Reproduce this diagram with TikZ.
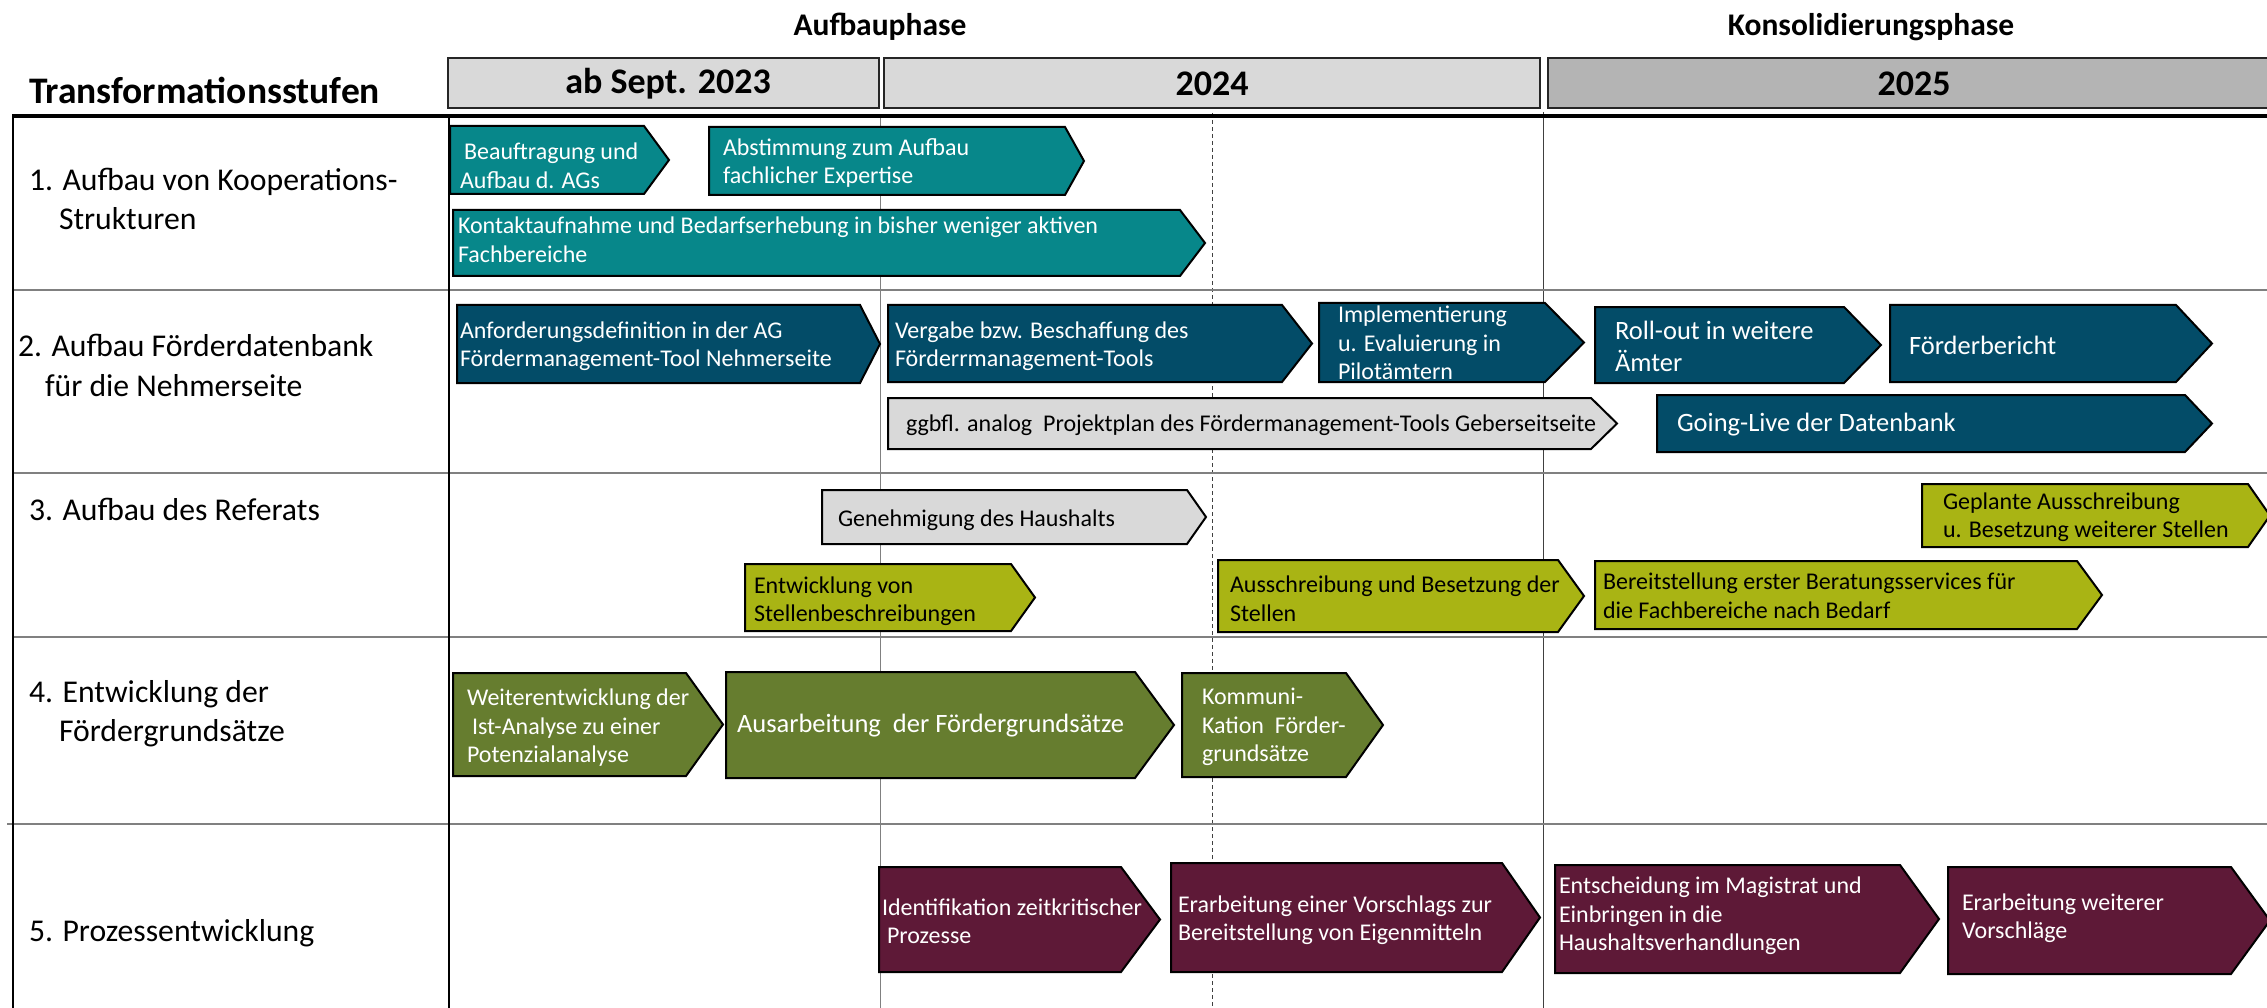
\documentclass[tikz,border=0pt]{standalone}
\usepackage{fontspec}
\setmainfont{Carlito}
\definecolor{cteal}{HTML}{07878A}
\definecolor{cblue}{HTML}{034C68}
\definecolor{colive}{HTML}{A9B414}
\definecolor{cgreen}{HTML}{667D2F}
\definecolor{cmaroon}{HTML}{5E1937}
\definecolor{cgray}{HTML}{D9D9D9}
\definecolor{cgraydk}{HTML}{B4B4B4}
\definecolor{cline}{HTML}{808080}
\newcommand\chev[6]{%
  \filldraw[chevbox,#1] (#2,#3) -- (#4,#3) -- (#5,{(#3+#6)/2}) -- (#4,#6) -- (#2,#6) -- cycle;}
\begin{document}
\begin{tikzpicture}[x=1pt,y=-1pt,
  every node/.style={inner sep=0pt,outer sep=0pt},
  chevbox/.style={draw=black,line width=2pt,line join=miter},
  tealbox/.style={fill=cteal},
  bluebox/.style={fill=cblue},
  olivebox/.style={fill=colive},
  greenbox/.style={fill=cgreen},
  maroonbox/.style={fill=cmaroon},
  graybox/.style={fill=cgray},
  lbl/.style={anchor=west,align=left,font=\fontsize{24}{28.5}\selectfont},
  biglbl/.style={anchor=west,align=left,font=\fontsize{26.5}{32}\selectfont},
  wt/.style={text=white},
  bk/.style={text=black},
  rowlbl/.style={anchor=west,align=left,font=\fontsize{31.7}{39}\selectfont},
  yearbox/.style={draw=black!85,line width=2pt},
  yeartxt/.style={font=\bfseries\fontsize{36}{40}\selectfont},
  phasetxt/.style={font=\bfseries\fontsize{31.5}{35}\selectfont},
  sepline/.style={draw=cline,line width=2pt},
  vthin/.style={draw=black!75,line width=1pt}]
\useasboundingbox (0,0) rectangle (2267,1008);
\clip (0,0) rectangle (2267,1008);

% phase titles
\node[phasetxt] (ph1) at (880,27) {Aufbauphase};
\node[phasetxt] (ph2) at (1871,27) {Konsolidierungsphase};
\node[yeartxt,anchor=west,font=\bfseries\fontsize{37.5}{42}\selectfont] (title) at (29,90) {Transformationsstufen};

% year header boxes
\draw[yearbox,fill=cgray] (448,58) rectangle (879,108);
\draw[yearbox,fill=cgray] (884,58) rectangle (1540,108);
\draw[yearbox,fill=cgraydk] (1548,58) rectangle (2290,108);
\node[yeartxt] (y23) at (668,84) {ab Sept. 2023};
\node[yeartxt] (y24) at (1212,84) {2024};
\node[yeartxt] (y25) at (1914,84) {2025};

% grid
\draw[cline,line width=1pt] (880,116) -- (880,1008);
\draw[vthin,dash pattern=on 4pt off 3pt] (1212,113) -- (1212,1008);
\draw[vthin] (1543,112) -- (1543,1008);
\draw[sepline] (13,290) -- (2267,290);
\draw[sepline] (13,473) -- (2267,473);
\draw[sepline] (13,637) -- (2267,637);
\draw[sepline] (7,824) -- (2267,824);
\draw[black,line width=2.5pt] (13,116) -- (13,1008);
\draw[black,line width=2pt] (449,116) -- (449,1008);
\draw[black,line width=3.5pt] (12,116) -- (2267,116);

% row labels
\node[rowlbl] (r1) at (29,199) {1. Aufbau von Kooperations-\\\hspace*{30pt}Strukturen};
\node[rowlbl,font=\fontsize{31.7}{40}\selectfont] (r2) at (18,365) {2. Aufbau Förderdatenbank\\\hspace*{27pt}für die Nehmerseite};
\node[rowlbl] (r3) at (29,509) {3. Aufbau des Referats};
\node[rowlbl] (r4) at (29,714) {4. Entwicklung der\\\hspace*{30pt}Fördergrundsätze};
\node[rowlbl] (r5) at (29,933) {5. Prozessentwicklung};

% row 1
\chev{tealbox}{450}{126}{644}{669}{194}
\node[lbl,wt] (a1) at (460,166) {\hspace*{4pt}Beauftragung und\\Aufbau d. AGs};
\chev{tealbox}{709}{127}{1065}{1084}{195}
\node[lbl,wt] (a2) at (723,163) {Abstimmung zum Aufbau\\fachlicher Expertise};
\chev{tealbox}{453}{210}{1180}{1205}{276}
\node[lbl,wt] (a3) at (458,240) {Kontaktaufnahme und Bedarfserhebung in bisher weniger aktiven\\Fachbereiche};

% row 2
\chev{bluebox}{457}{305}{860}{880}{383}
\node[lbl,wt] (b1) at (460,346) {Anforderungsdefinition in der AG\\Fördermanagement-Tool Nehmerseite};
\chev{bluebox}{888}{305}{1282}{1312}{382}
\node[lbl,wt] (b2) at (895,346) {Vergabe bzw. Beschaffung des\\Förderrmanagement-Tools};
\chev{bluebox}{1319}{303}{1545}{1584}{382}
\node[lbl,wt] (b3) at (1338,343) {Implementierung\\u. Evaluierung in\\Pilotämtern};
\chev{bluebox}{1595}{307}{1844}{1881}{383}
\node[biglbl,wt] (b4) at (1615,346) {Roll-out in weitere\\Ämter};
\chev{bluebox}{1890}{305}{2176}{2212}{382}
\node[biglbl,wt] (b5) at (1909,345) {Förderbericht};
\chev{graybox}{888}{398}{1591}{1617}{449}
\node[lbl,bk] (b6) at (906,425) {ggbfl. analog\ \ Projektplan des Fördermanagement-Tools Geberseitseite};
\chev{bluebox}{1657}{395}{2185}{2212}{452}
\node[biglbl,wt] (b7) at (1677,425) {Going-Live der Datenbank};

% row 3
\chev{graybox}{822}{490}{1187}{1206}{544}
\node[lbl,bk] (c1) at (838,520) {Genehmigung des Haushalts};
\chev{olivebox}{745}{564}{1011}{1035}{631}
\node[lbl,bk] (c2) at (754,601) {Entwicklung von\\Stellenbeschreibungen};
\chev{olivebox}{1218}{560}{1558}{1584}{632}
\node[lbl,bk] (c3) at (1230,599) {Ausschreibung und Besetzung der\\Stellen};
\chev{olivebox}{1595}{561}{2077}{2102}{629}
\node[lbl,bk] (c4) at (1603,596) {Bereitstellung erster Beratungsservices für\\die Fachbereiche nach Bedarf};
\chev{olivebox}{1922}{484}{2248}{2270}{547}
\node[lbl,bk] (c5) at (1943,517) {Geplante Ausschreibung\\u. Besetzung weiterer Stellen};

% row 4
\chev{greenbox}{453}{673}{686}{723}{776}
\node[lbl,wt] (d1) at (467,728) {Weiterentwicklung der\\\hspace*{5pt}Ist-Analyse zu einer\\Potenzialanalyse};
\chev{greenbox}{726}{672}{1135}{1174}{778}
\node[biglbl,wt] (d2) at (737,726) {Ausarbeitung\ \ der Fördergrundsätze};
\chev{greenbox}{1182}{673}{1346}{1383}{777}
\node[lbl,wt] (d3) at (1202,727) {Kommuni-\\Kation\ \ Förder-\\grundsätze};

% row 5
\chev{maroonbox}{879}{867}{1121}{1160}{972}
\node[lbl,wt] (e1) at (882,921) {Identifikation zeitkritischer\\\hspace*{5pt}Prozesse};
\chev{maroonbox}{1171}{863}{1502}{1540}{972}
\node[lbl,wt] (e2) at (1178,920) {Erarbeitung einer Vorschlags zur\\Bereitstellung von Eigenmitteln};
\chev{maroonbox}{1555}{865}{1900}{1939}{973}
\node[lbl,wt] (e3) at (1559,916) {Entscheidung im Magistrat und\\Einbringen in die\\Haushaltsverhandlungen};
\chev{maroonbox}{1948}{867}{2231}{2270}{974}
\node[lbl,wt] (e4) at (1962,918) {Erarbeitung weiterer\\Vorschläge};
\end{tikzpicture}
\end{document}
